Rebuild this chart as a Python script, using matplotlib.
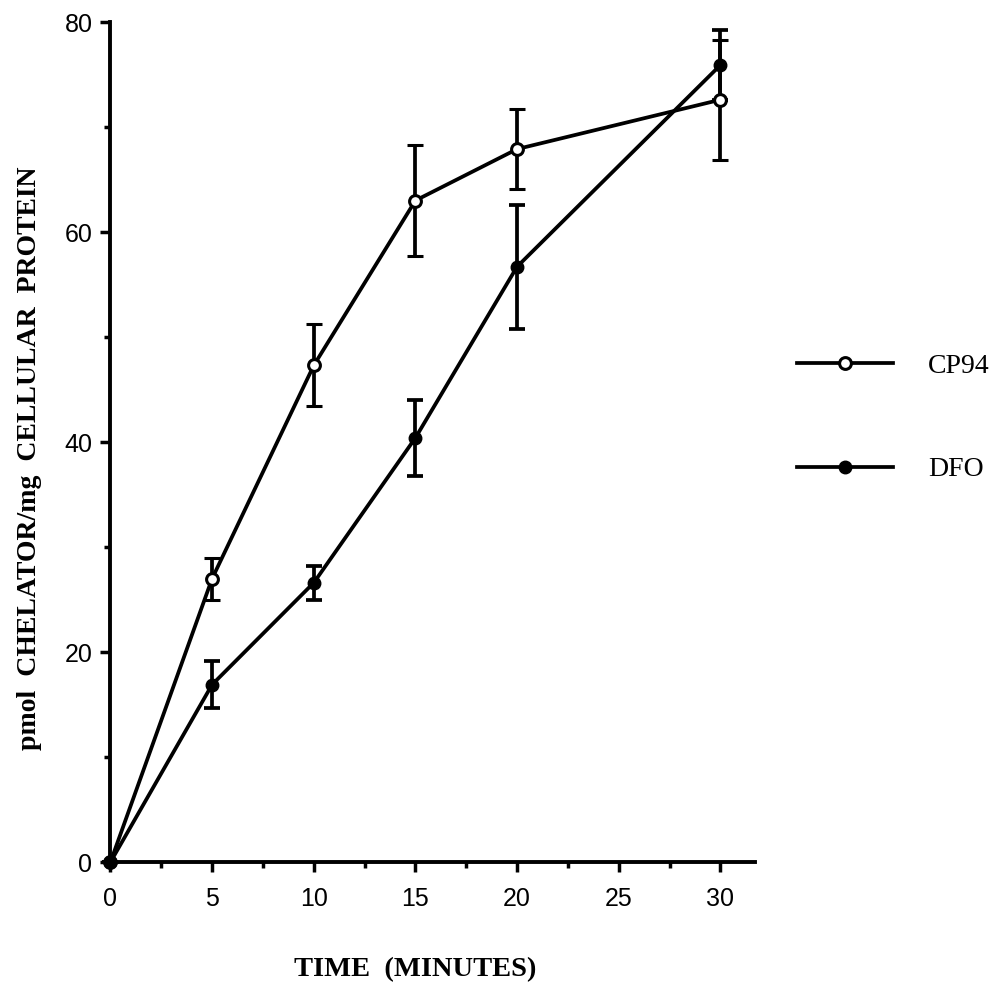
import matplotlib
matplotlib.use("Agg")
import matplotlib.pyplot as plt
from matplotlib.ticker import MultipleLocator
from matplotlib.lines import Line2D

time = [0, 5, 10, 15, 20, 30]
cp94 = [0, 27.0, 47.3, 63.0, 67.9, 72.6]
cp94_err = [0, 2.0, 3.9, 5.3, 3.8, 5.7]
dfo = [0, 16.9, 26.6, 40.4, 56.7, 75.9]
dfo_err = [0, 2.2, 1.6, 3.6, 5.9, 3.3]

fig = plt.figure(figsize=(9.9, 9.96), dpi=100)
ax = fig.add_axes([0.1116, 0.1345, 0.651, 0.8434])

lw = 2.7
ax.errorbar(time, cp94, yerr=cp94_err, color="black", lw=lw, elinewidth=lw,
            capsize=5.5, capthick=lw, marker="o", ms=8.5, mfc="white", mec="black",
            mew=2.2, clip_on=False, zorder=3, label="CP94")
ax.errorbar(time, dfo, yerr=dfo_err, color="black", lw=lw, elinewidth=lw,
            capsize=5.5, capthick=lw, marker="o", ms=9, mfc="black", mec="black",
            clip_on=False, zorder=3, label="DFO")

ax.set_xlim(0, 31.7)
ax.set_ylim(0, 80)
ax.xaxis.set_major_locator(MultipleLocator(5))
ax.xaxis.set_minor_locator(MultipleLocator(2.5))
ax.yaxis.set_major_locator(MultipleLocator(20))
ax.yaxis.set_minor_locator(MultipleLocator(10))

for s in ["top", "right"]:
    ax.spines[s].set_visible(False)
for s in ["left", "bottom"]:
    ax.spines[s].set_linewidth(2.8)

ax.tick_params(axis="both", which="major", direction="out", width=2.5, length=7,
               labelsize=18, pad=6)
ax.tick_params(axis="x", which="major", pad=11)
ax.tick_params(axis="both", which="minor", direction="out", width=2.5, length=4)
for lab in ax.get_xticklabels() + ax.get_yticklabels():
    lab.set_family("Liberation Sans")

fig.text(415 / 990, 1 - 970 / 996, "TIME  (MINUTES)", family="Liberation Serif",
         fontweight="bold", fontsize=20.5, ha="center", va="center")
fig.text(30 / 990, 1 - 458 / 996, "pmol  CHELATOR/mg  CELLULAR  PROTEIN",
         family="Liberation Serif", fontweight="bold", fontsize=20,
         rotation=90, ha="center", va="center")

handles = [
    Line2D([], [], color="black", lw=lw, marker="o", ms=8.5, mfc="white", mec="black", mew=2.2),
    Line2D([], [], color="black", lw=lw, marker="o", ms=9, mfc="black", mec="black"),
]
fig.legend(handles, ["CP94", "DFO"], loc="upper left",
           bbox_to_anchor=(0.805, 0.645), frameon=False, borderpad=0,
           borderaxespad=0, prop={"family": "Liberation Serif", "size": 20},
           handlelength=3.45, handletextpad=1.26, labelspacing=2.8)

fig.savefig("out.png", dpi=100)
